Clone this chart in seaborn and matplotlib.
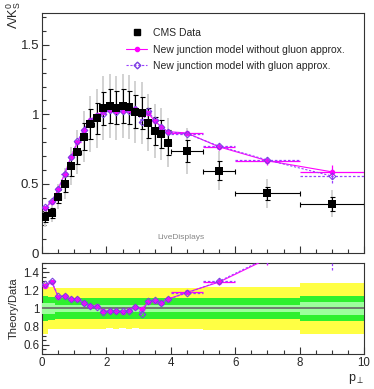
import numpy as np
import pandas as pd
import matplotlib
matplotlib.use("Agg")
import matplotlib.pyplot as plt
import seaborn as sns
from matplotlib.lines import Line2D
from matplotlib.ticker import MultipleLocator

# pT bins (centres and half widths)
pt = [0.1, 0.3, 0.5, 0.7, 0.9, 1.1, 1.3, 1.5, 1.7, 1.9, 2.1, 2.3, 2.5, 2.7, 2.9,
      3.1, 3.3, 3.5, 3.7, 3.9, 4.5, 5.5, 7.0, 9.0]
pt_hw = [0.1] * 20 + [0.5, 0.5, 1.0, 1.0]

# CMS data
data_val = [0.26, 0.286, 0.406, 0.50, 0.627, 0.726, 0.839, 0.93, 0.971, 1.043, 1.06, 1.048,
            1.06, 1.05, 1.019, 1.007, 0.94, 0.88, 0.858, 0.795, 0.735, 0.593, 0.43, 0.355]
data_stat = [0.036, 0.037, 0.047, 0.058, 0.072, 0.083, 0.096, 0.107, 0.112, 0.12, 0.122, 0.12,
             0.122, 0.121, 0.117, 0.116, 0.108, 0.101, 0.099, 0.091, 0.081, 0.068, 0.049, 0.05]
data_tot = [0.072, 0.066, 0.09, 0.11, 0.138, 0.16, 0.185, 0.205, 0.214, 0.23, 0.233, 0.231,
            0.233, 0.231, 0.224, 0.222, 0.207, 0.194, 0.189, 0.175, 0.169, 0.142, 0.102, 0.099]
data_inner = [0.016, 0.017, 0.016, 0.020, 0.025, 0.029, 0.034, 0.037, 0.039, 0.042, 0.042, 0.042,
              0.042, 0.042, 0.041, 0.040, 0.038, 0.035, 0.034, 0.032, 0.029, 0.024, 0.017, 0.027]

# models
model_nogluon = [0.324, 0.369, 0.459, 0.567, 0.69, 0.80, 0.889, 0.958, 0.995, 1.017, 1.028, 1.022,
                 1.021, 1.029, 1.039, 1.00, 1.006, 0.953, 0.91, 0.875, 0.865, 0.765, 0.665, 0.585]
model_gluon = [0.33, 0.372, 0.462, 0.57, 0.692, 0.805, 0.89, 0.955, 0.99, 1.0, 1.03, 1.015,
               1.025, 1.02, 1.04, 0.945, 1.02, 0.96, 0.905, 0.875, 0.86, 0.77, 0.67, 0.555]
model_err = [0.0] * 20 + [0.01, 0.02, 0.03, 0.05]

labels = ["CMS Data", "New junction model without gluon approx.",
          "New junction model with gluon approx."]

MAG = "#ff00ff"
VIO = "#9a40ff"


def band(ax, x, hw, rel, color, z):
    # continuous stepped band over the bins
    xs = np.ravel(np.column_stack([x - hw, x + hw]))
    r = np.repeat(rel, 2)
    ax.fill_between(xs, 1 - r, 1 + r, color=color, linewidth=0, zorder=z)


def main():
    sns.set_style("white")
    plt.rcParams["font.family"] = ["Liberation Sans", "DejaVu Sans"]
    plt.rcParams["mathtext.fontset"] = "custom"
    plt.rcParams["mathtext.rm"] = "Liberation Sans"
    plt.rcParams["mathtext.it"] = "Liberation Sans"

    x = np.array(pt)
    hw = np.array(pt_hw)
    y = np.array(data_val)
    df = pd.DataFrame({"pt": pt, "data": data_val,
                       "nogluon": model_nogluon, "gluon": model_gluon})
    df["r_nogluon"] = df["nogluon"] / df["data"]
    df["r_gluon"] = df["gluon"] / df["data"]

    fig = plt.figure(figsize=(3.74, 3.89), dpi=100)
    ax = fig.add_axes([0.1123, 0.3496, 0.861, 0.617])
    rx = fig.add_axes([0.1123, 0.0900, 0.861, 0.2340])

    # ---- top panel
    ax.errorbar(x, y, yerr=data_tot, fmt="none", ecolor="#d2d2d2", elinewidth=1.4, zorder=1)
    ax.errorbar(x, y, yerr=data_stat, xerr=hw, fmt="none", ecolor="black",
                elinewidth=0.8, capsize=1.8, capthick=0.8, zorder=2)
    ax.errorbar(x, model_nogluon, yerr=model_err, xerr=hw, fmt="none", ecolor=MAG,
                elinewidth=0.9, zorder=3)
    eb = ax.errorbar(x, model_gluon, yerr=model_err, xerr=hw, fmt="none", ecolor=VIO,
                     elinewidth=0.9, zorder=3)
    for c in eb[2]:
        c.set_linestyle((0, (2, 1.5)))
    sns.lineplot(data=df, x="pt", y="nogluon", ax=ax, color=MAG, linewidth=0.8,
                 marker="o", markersize=3.2, markeredgecolor=MAG, zorder=4)
    sns.lineplot(data=df, x="pt", y="gluon", ax=ax, color=VIO, linewidth=0.8,
                 linestyle=(0, (2, 1.5)), marker="D", markersize=3.4,
                 markerfacecolor="none", markeredgecolor="#7a40e0", zorder=5)
    sns.scatterplot(data=df, x="pt", y="data", ax=ax, color="black", marker="s",
                    s=30, linewidth=0, zorder=6)

    ax.set_xlim(0, 10)
    ax.set_ylim(0, 1.73)
    ax.yaxis.set_major_locator(MultipleLocator(0.5))
    ax.yaxis.set_minor_locator(MultipleLocator(0.1))
    ax.xaxis.set_major_locator(MultipleLocator(2))
    ax.xaxis.set_minor_locator(MultipleLocator(0.5))
    ax.set_yticks([0, 0.5, 1, 1.5], ["0", "0.5", "1", "1.5"])
    ax.tick_params(axis="x", labelbottom=False)
    ax.set_xlabel("")
    ax.set_ylabel("")
    fig.text(0.036, 0.997, r"$\Lambda/\mathrm{K}^{0}_{\mathrm{S}}$", fontsize=9,
             rotation=90, ha="center", va="top")
    ax.text(0.43, 0.065, "LiveDisplays", transform=ax.transAxes, fontsize=6,
            color="#888888", ha="center", va="center")

    handles = [
        Line2D([], [], color="black", marker="s", markersize=5, linestyle="none"),
        Line2D([], [], color=MAG, marker="o", markersize=3, linewidth=0.8),
        Line2D([], [], color=VIO, marker="D", markersize=3.4, markerfacecolor="none",
               markeredgecolor="#7a40e0", linewidth=0.8, linestyle=(0, (2, 1.5))),
    ]
    ax.legend(handles, labels, loc="upper left", bbox_to_anchor=(0.262, 0.937),
              frameon=False, fontsize=7.5, handlelength=2.0, handletextpad=0.6,
              labelspacing=0.62, borderpad=0, borderaxespad=0)

    # ---- ratio panel
    band(rx, x, hw, np.array(data_tot) / y, "#ffff44", 1)
    band(rx, x, hw, np.array(data_stat) / y, "#2ef02e", 2)
    band(rx, x, hw, np.array(data_inner) / y, "#9cff9c", 3)
    rx.axhline(1.0, color="#666666", linewidth=1.2, zorder=4)

    r_err = np.array(model_err) / y
    rx.errorbar(x, df["r_nogluon"], yerr=r_err, xerr=hw, fmt="none", ecolor=MAG,
                elinewidth=0.9, zorder=5)
    eb = rx.errorbar(x, df["r_gluon"], yerr=r_err, xerr=hw, fmt="none", ecolor=VIO,
                     elinewidth=0.9, zorder=5)
    for c in eb[2]:
        c.set_linestyle((0, (2, 1.5)))
    sns.lineplot(data=df, x="pt", y="r_nogluon", ax=rx, color=MAG, linewidth=0.8,
                 marker="o", markersize=3.2, markeredgecolor=MAG, zorder=6)
    sns.lineplot(data=df, x="pt", y="r_gluon", ax=rx, color=VIO, linewidth=0.8,
                 linestyle=(0, (2, 1.5)), marker="D", markersize=3.4,
                 markerfacecolor="none", markeredgecolor="#7a40e0", zorder=7)

    rx.set_xlim(0, 10)
    rx.set_ylim(0.5, 1.5)
    rx.yaxis.set_major_locator(MultipleLocator(0.2))
    rx.yaxis.set_minor_locator(MultipleLocator(0.05))
    rx.set_yticks([0.6, 0.8, 1.0, 1.2, 1.4], ["0.6", "0.8", "1", "1.2", "1.4"])
    rx.xaxis.set_major_locator(MultipleLocator(2))
    rx.xaxis.set_minor_locator(MultipleLocator(0.5))
    rx.set_xticks([0, 2, 4, 6, 8, 10], ["0", "2", "4", "6", "8", "10"])
    rx.set_ylabel("Theory/Data", fontsize=8, labelpad=3)
    rx.set_xlabel(r"$\mathrm{p}_{\perp}$", fontsize=9, loc="right", labelpad=2)

    for a, fs in ((ax, 9.5), (rx, 8.3)):
        for s in a.spines.values():
            s.set_color("#333333")
            s.set_linewidth(0.8)
        a.tick_params(which="both", direction="in", top=False, right=False,
                      left=True, bottom=True, labelsize=fs, pad=2, color="#333333")
        a.tick_params(which="major", length=5, width=0.8)
        a.tick_params(which="minor", length=3, width=0.8)
        a.set_facecolor("white")

    fig.savefig("out.png", dpi=100, facecolor="white")
    plt.close(fig)


if __name__ == "__main__":
    main()
